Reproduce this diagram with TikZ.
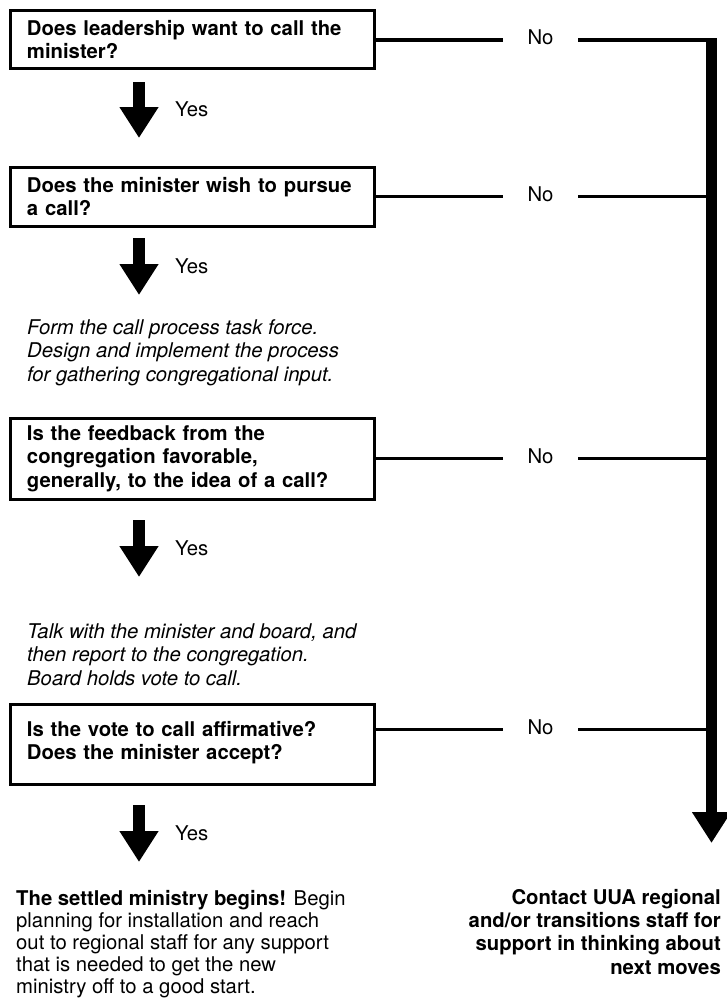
\documentclass[tikz,border=0pt]{standalone}
\usepackage{fontspec}
\setmainfont{TeX Gyre Heros}
\usetikzlibrary{arrows.meta}

\begin{document}
\begin{tikzpicture}[x=1pt, y=-1pt,
    every node/.style={font=\fontsize{20.3}{23.3}\selectfont},
    question/.style={draw, line width=3pt, outer sep=0pt, anchor=north west,
      text width=330.5pt, align=left, inner xsep=16.5pt, inner ysep=0pt,
      font=\fontsize{20.3}{23.3}\selectfont\bfseries},
    action/.style={anchor=base west, align=left, inner sep=0pt,
      font=\fontsize{20.3}{23.3}\selectfont\itshape},
    answer/.style={anchor=base west, inner sep=0pt},
    nolabel/.style={text height=14.6pt, text depth=4.6pt, inner xsep=24.5pt, inner ysep=0pt},
    noline/.style={line width=3.3pt},
    bigarrow/.style={line width=11.5pt, -{Triangle[width=37pt, length=31pt]}}]
    \useasboundingbox (0,0) rectangle (726,998);

    % Perguntas
    \node[question, minimum height=58pt] (q1) at (10.5,10.5) {Does leadership want to call the\\minister?};
    \node[question, minimum height=58.5pt] (q2) at (10.5,167.5) {Does the minister wish to pursue\\a call?};
    \node[question, minimum height=80.5pt] (q3) at (10.5,418.5) {Is the feedback from the\\congregation favorable,\\generally, to the idea of a call?};
    \node[question, minimum height=80pt] (q4) at (10.5,704.3) {Is the vote to call affirmative?\\Does the minister accept?\vspace{4pt}};

    % Passos intermediarios (base = ultima linha)
    \node[action] (s1) at (27,381) {Form the call process task force.\\Design and implement the process\\for gathering congregational input.};
    \node[action] (s2) at (27,685) {Talk with the minister and board, and\\then report to the congregation.\\Board holds vote to call.};

    % Resultados
    \node[anchor=base west, align=left, inner sep=0pt, font=\fontsize{20.3}{22}\selectfont] (settled) at (16,993) {\textbf{The settled ministry begins!} Begin\\planning for installation and reach\\out to regional staff for any support\\that is needed to get the new\\ministry off to a good start.};
    \node[anchor=base east, align=right, inner sep=0pt, font=\fontsize{20.3}{23.3}\selectfont\bfseries] (contact) at (721,974) {Contact UUA regional\\and/or transitions staff for\\support in thinking about\\next moves};

    % Setas do caminho "Yes"
    \coordinate (d1top) at (139,82);  \coordinate (d1tip) at (139,138);
    \coordinate (d2top) at (139,238); \coordinate (d2tip) at (139,295);
    \coordinate (d3top) at (139,520); \coordinate (d3tip) at (139,577);
    \coordinate (d4top) at (139,805); \coordinate (d4tip) at (139,862);
    \draw[bigarrow] (d1top) -- (d1tip);
    \draw[bigarrow] (d2top) -- (d2tip);
    \draw[bigarrow] (d3top) -- (d3tip);
    \draw[bigarrow] (d4top) -- (d4tip);
    \node[answer] (yes1) at (175,116.5) {Yes};
    \node[answer] (yes2) at (175,273) {Yes};
    \node[answer] (yes3) at (175,555) {Yes};
    \node[answer] (yes4) at (175,840) {Yes};

    % Caminho "No"
    \coordinate (railtop) at (711.5,38.3);
    \coordinate (railtip) at (711.5,843);
    \node[nolabel] (no1) at (540.5,40) {No};
    \node[nolabel] (no2) at (540.5,196.5) {No};
    \node[nolabel] (no3) at (540.5,458.5) {No};
    \node[nolabel] (no4) at (540.5,729.5) {No};
    \draw[noline] (q1.east |- no1.west) -- (no1.west);
    \draw[noline] (no1.east) -- (no1.east -| railtop);
    \draw[noline] (q2.east |- no2.west) -- (no2.west);
    \draw[noline] (no2.east) -- (no2.east -| railtop);
    \draw[noline] (q3.east |- no3.west) -- (no3.west);
    \draw[noline] (no3.east) -- (no3.east -| railtop);
    \draw[noline] (q4.east |- no4.west) -- (no4.west);
    \draw[noline] (no4.east) -- (no4.east -| railtop);
    \draw[bigarrow, line width=11pt] (railtop) -- (railtip);
\end{tikzpicture}
\end{document}
